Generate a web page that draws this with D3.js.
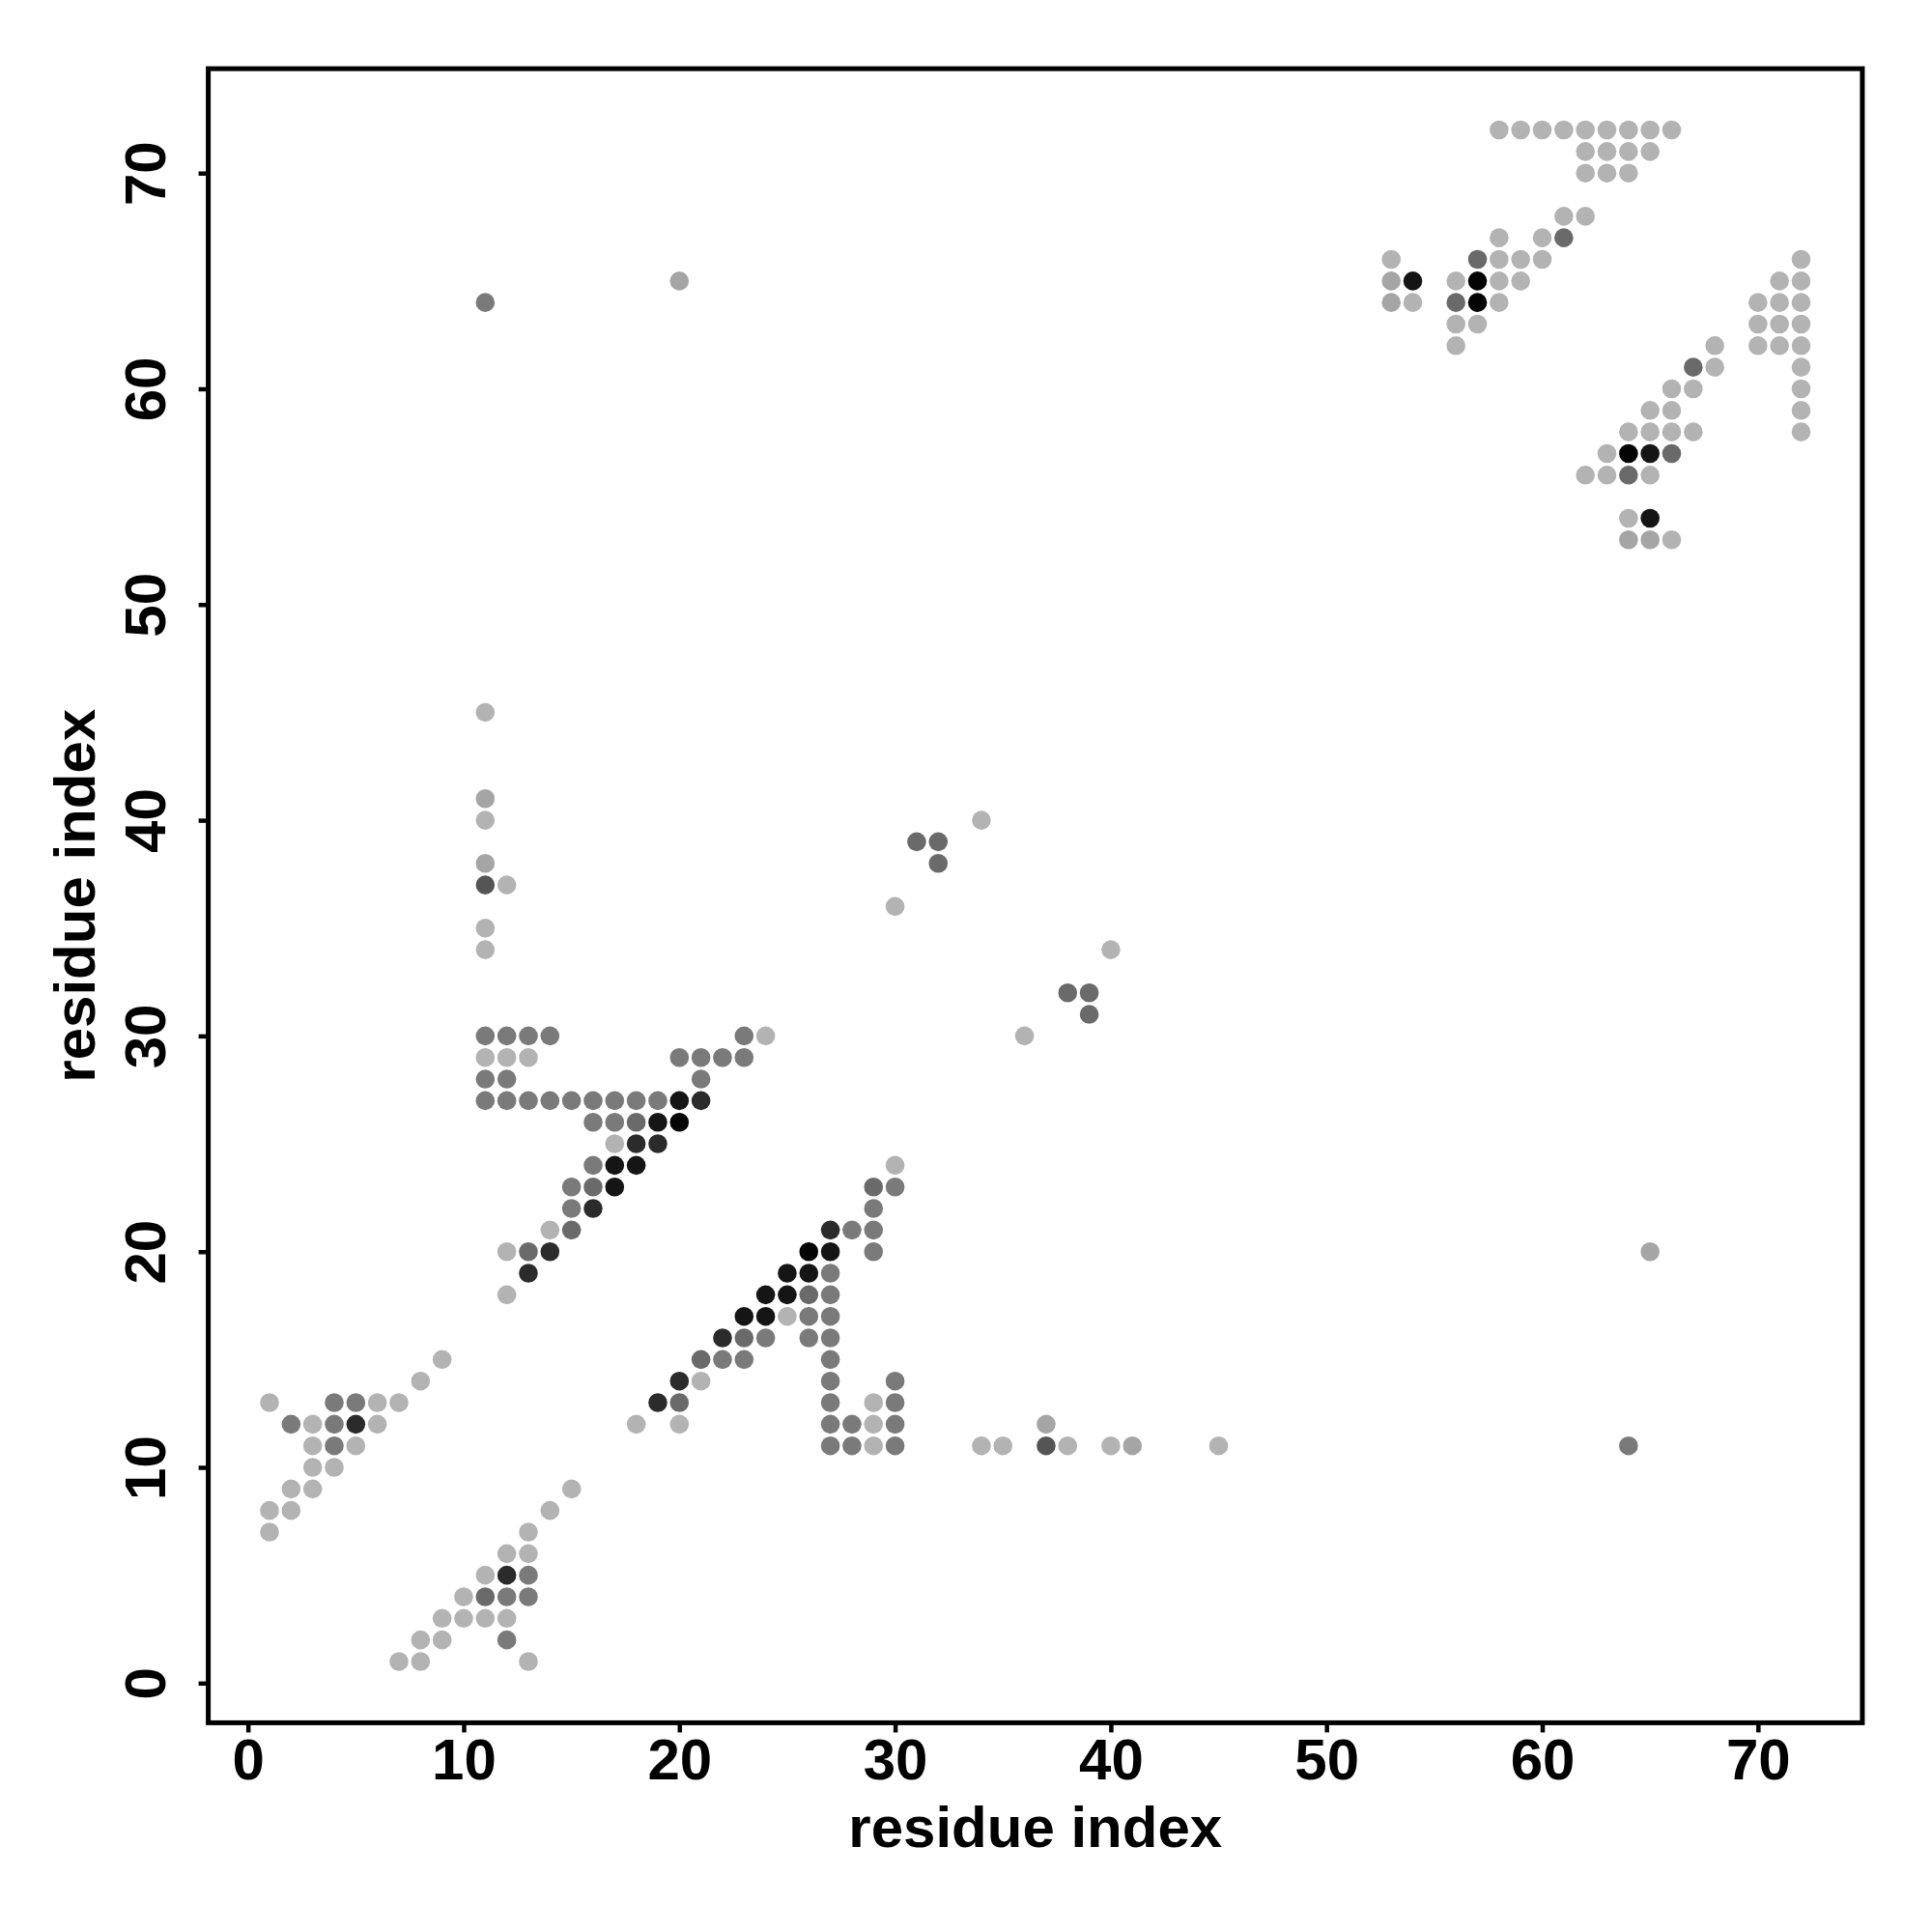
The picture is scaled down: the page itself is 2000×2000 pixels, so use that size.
<!DOCTYPE html>
<html>
<head>
<meta charset="utf-8">
<script src="https://cdn.jsdelivr.net/npm/d3@7"></script>
<style>
  html, body { margin: 0; padding: 0; background: #fff; }
  svg { display: block; }
  text { font-family: "Liberation Sans", Arial, Helvetica, sans-serif; font-weight: bold; fill: #000; }
</style>
</head>
<body>
<svg id="chart" width="2000" height="2000"></svg>
<script>
// ---- data: [residue i, residue j, contact level (1 = weak/light ... 8 = strongest/black)] ----
const clusterLowerLeftA = [
  [1,13,1],[4,13,3],[5,13,3],[6,13,1],[7,13,1],
  [2,12,3],[3,12,1],[4,12,3],[5,12,6],[6,12,1],
  [3,11,1],[4,11,3],[5,11,1],
  [3,10,1],[4,10,1],
  [2,9,1],[3,9,1],
  [1,8,1],[2,8,1],
  [1,7,1],
  [8,14,1],[9,15,1]
];
const clusterLowerLeftB = [
  [15,9,1],[14,8,1],[13,7,1],
  [12,6,1],[13,6,1],
  [11,5,1],[12,5,6],[13,5,3],
  [10,4,1],[11,4,4],[12,4,3],[13,4,3],
  [9,3,1],[10,3,1],[11,3,1],[12,3,1],
  [8,2,1],[9,2,1],[12,2,3],
  [7,1,1],[8,1,1],[13,1,1]
];
const clusterUpperMid = [
  [11,30,3],[12,30,3],[13,30,3],[14,30,3],[23,30,3],[24,30,1],
  [11,29,1],[12,29,1],[13,29,1],[20,29,3],[21,29,3],[22,29,3],[23,29,3],
  [11,28,3],[12,28,3],[21,28,3],
  [11,27,3],[12,27,3],[13,27,3],[14,27,3],[15,27,3],[16,27,3],[17,27,3],[18,27,3],[19,27,3],[20,27,7],[21,27,6],
  [16,26,3],[17,26,3],[18,26,4],[19,26,7],[20,26,8],
  [17,25,1],[18,25,6],[19,25,6],
  [16,24,3],[17,24,7],[18,24,7],
  [15,23,3],[16,23,4],[17,23,7],
  [15,22,3],[16,22,6],
  [14,21,1],[15,21,4],
  [12,20,1],[13,20,4],[14,20,6],
  [13,19,6],
  [12,18,1]
];
const clusterLowerMid = [
  [30,24,1],
  [29,23,4],[30,23,3],
  [29,22,3],
  [27,21,6],[28,21,3],[29,21,3],
  [26,20,8],[27,20,7],[29,20,3],
  [25,19,7],[26,19,7],[27,19,3],
  [24,18,7],[25,18,7],[26,18,4],[27,18,3],
  [23,17,7],[24,17,7],[25,17,1],[26,17,3],[27,17,3],
  [22,16,6],[23,16,4],[24,16,3],[26,16,3],[27,16,3],
  [21,15,4],[22,15,3],[23,15,3],[27,15,3],
  [20,14,6],[21,14,1],[27,14,3],[30,14,3],
  [19,13,6],[20,13,4],[27,13,3],[29,13,1],[30,13,3],
  [18,12,1],[20,12,1],[27,12,3],[28,12,3],[29,12,1],[30,12,3],
  [27,11,3],[28,11,3],[29,11,1],[30,11,3]
];
const scatteredContacts = [
  [34,11,1],[35,11,1],[37,11,5],[37,12,2],[38,11,1],[40,11,1],[41,11,2],[45,11,1],[64,11,3],[65,20,2],
  [11,34,1],[11,35,1],[11,37,5],[12,37,1],[11,38,2],[11,40,1],[11,41,2],[11,45,1],[11,64,3],[20,65,2],
  [31,39,4],[32,39,4],[32,38,4],[34,40,1],[30,36,1],[40,34,1],[38,32,4],[39,32,4],[39,31,4],[36,30,1]
];
const clusterUpperRight = [
  [58,72,1],[59,72,1],[60,72,1],[61,72,1],[62,72,1],[63,72,1],[64,72,1],[65,72,1],[66,72,1],
  [62,71,1],[63,71,1],[64,71,1],[65,71,1],
  [62,70,1],[63,70,1],[64,70,1],
  [61,68,1],[62,68,1],
  [58,67,1],[60,67,1],[61,67,4],
  [53,66,1],[57,66,4],[58,66,1],[59,66,1],[60,66,1],[72,66,1],
  [53,65,2],[54,65,7],[56,65,1],[57,65,8],[58,65,1],[59,65,1],[71,65,1],[72,65,1],
  [53,64,2],[54,64,1],[56,64,4],[57,64,8],[58,64,1],[70,64,1],[71,64,1],[72,64,1],
  [56,63,1],[57,63,1],[70,63,1],[71,63,1],[72,63,1],
  [56,62,1],[68,62,1],[70,62,1],[71,62,1],[72,62,1],
  [67,61,4],[68,61,1],[72,61,1],
  [66,60,1],[67,60,1],[72,60,1],
  [65,59,1],[66,59,1],[72,59,1],
  [64,58,1],[65,58,1],[66,58,1],[67,58,1],[72,58,1],
  [63,57,1],[64,57,8],[65,57,7],[66,57,4],
  [62,56,1],[63,56,1],[64,56,4],[65,56,1],
  [64,54,1],[65,54,7],
  [64,53,2],[65,53,2],[66,53,1]
];
const tickValues = [0, 10, 20, 30, 40, 50, 60, 70];
const xTitle = "residue index";
const yTitle = "residue index";

// ---- drawing ----
const contacts = [].concat(clusterLowerLeftA, clusterLowerLeftB, clusterUpperMid,
                           clusterLowerMid, scatteredContacts, clusterUpperRight);

const svg = d3.select("#chart");
const plot = { left: 215.6, right: 1927.9, top: 71.1, bottom: 1783.4 };
const dom = [-1.84, 74.84];

const x = d3.scaleLinear().domain(dom).range([plot.left, plot.right]);
const y = d3.scaleLinear().domain(dom).range([plot.bottom, plot.top]);
const shade = d3.scaleOrdinal()
  .domain([1,2,3,4,5,6,7,8])
  .range(["#b3b3b3","#a5a5a5","#7a7a7a","#6a6a6a","#555555","#2b2b2b","#151515","#040404"]);

svg.append("rect").attr("width", 2000).attr("height", 2000).attr("fill", "#fff");

// points
svg.append("g").selectAll("circle")
  .data(contacts)
  .join("circle")
  .attr("cx", d => x(d[0]))
  .attr("cy", d => y(d[1]))
  .attr("r", 9.8)
  .attr("fill", d => shade(d[2]));

// axes
const xAxis = svg.append("g")
  .attr("transform", `translate(0,${plot.bottom})`)
  .call(d3.axisBottom(x).tickValues(tickValues).tickSize(10).tickPadding(6).tickFormat(d3.format("d")));
const yAxis = svg.append("g")
  .attr("transform", `translate(${plot.left},0)`)
  .call(d3.axisLeft(y).tickValues(tickValues).tickSize(10).tickFormat(d3.format("d")));

[xAxis, yAxis].forEach(g => {
  g.select(".domain").remove();
  g.selectAll(".tick line").attr("stroke", "#000").attr("stroke-width", 4.5);
  g.selectAll(".tick text")
    .attr("font-family", '"Liberation Sans", Arial, sans-serif')
    .attr("font-weight", "bold")
    .attr("font-size", 60)
    .attr("fill", "#000");
});
xAxis.selectAll(".tick text").attr("dy", "0.71em");
yAxis.selectAll(".tick text")
  .attr("x", null).attr("dy", null)
  .attr("text-anchor", "middle")
  .attr("transform", `translate(${171 - plot.left},0) rotate(-90)`);

// frame
svg.append("rect")
  .attr("x", plot.left).attr("y", plot.top)
  .attr("width", plot.right - plot.left).attr("height", plot.bottom - plot.top)
  .attr("fill", "none").attr("stroke", "#000").attr("stroke-width", 5);

// titles
svg.append("text")
  .attr("x", (plot.left + plot.right) / 2).attr("y", 1912)
  .attr("text-anchor", "middle").attr("font-size", 60)
  .text(xTitle);
svg.append("text")
  .attr("transform", `translate(98,${(plot.top + plot.bottom) / 2}) rotate(-90)`)
  .attr("text-anchor", "middle").attr("font-size", 60)
  .text(yTitle);
</script>
</body>
</html>
